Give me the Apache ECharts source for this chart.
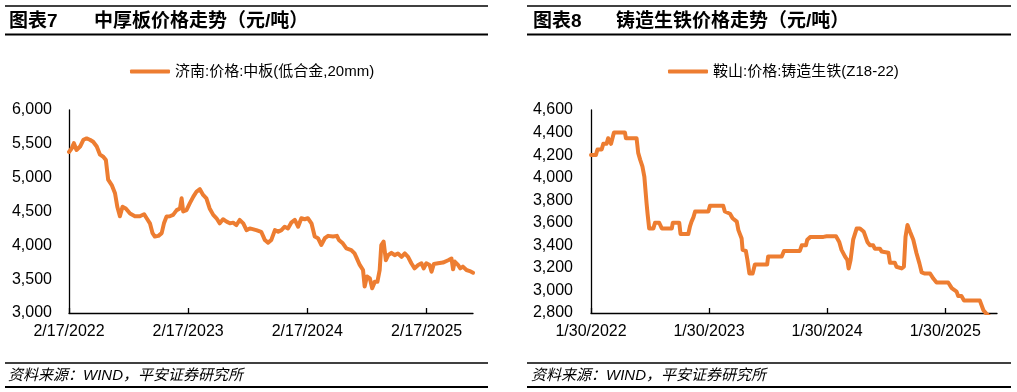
<!DOCTYPE html>
<html><head><meta charset="utf-8">
<script src="https://cdn.jsdelivr.net/npm/echarts@6/dist/echarts.min.js"></script>
<style>html,body{margin:0;padding:0;background:#fff}#c{width:1017px;height:392px}</style>
</head><body><div id="c"></div>
<script>
// ---- Chart 7: 济南 中板 price ----
const plateDates = ['2022-02-17','2022-02-25','2022-03-04','2022-03-12','2022-03-23','2022-04-02','2022-04-12','2022-04-22','2022-05-02','2022-05-13','2022-05-23','2022-06-02','2022-06-10','2022-06-17','2022-06-28','2022-07-08','2022-07-15','2022-07-23','2022-07-31','2022-08-10','2022-08-23','2022-09-07','2022-09-22','2022-10-05','2022-10-13','2022-10-23','2022-10-31','2022-11-07','2022-11-18','2022-11-28','2022-12-05','2022-12-13','2022-12-23','2023-01-02','2023-01-13','2023-01-23','2023-01-28','2023-02-02','2023-02-12','2023-02-22','2023-03-05','2023-03-15','2023-03-25','2023-04-04','2023-04-14','2023-04-24','2023-05-05','2023-05-15','2023-05-25','2023-06-04','2023-06-15','2023-06-25','2023-07-05','2023-07-15','2023-07-25','2023-08-05','2023-08-15','2023-08-25','2023-09-14','2023-09-29','2023-10-10','2023-10-20','2023-10-30','2023-11-10','2023-11-20','2023-11-30','2023-12-10','2023-12-20','2023-12-30','2024-01-10','2024-01-20','2024-01-30','2024-02-09','2024-02-19','2024-03-01','2024-03-11','2024-03-21','2024-03-31','2024-04-11','2024-04-21','2024-05-06','2024-05-18','2024-05-24','2024-06-05','2024-06-16','2024-07-01','2024-07-11','2024-07-16','2024-07-27','2024-08-06','2024-08-11','2024-08-18','2024-08-27','2024-09-03','2024-09-11','2024-09-19','2024-09-26','2024-10-01','2024-10-08','2024-10-15','2024-10-22','2024-11-01','2024-11-11','2024-11-21','2024-12-02','2024-12-12','2024-12-22','2025-01-01','2025-01-11','2025-01-22','2025-02-01','2025-02-08','2025-02-16','2025-02-26','2025-03-04','2025-03-11','2025-03-24','2025-04-08','2025-04-24','2025-05-04','2025-05-09','2025-05-14','2025-05-24','2025-05-31','2025-06-08','2025-06-19','2025-06-29','2025-07-09'];
const plateValues = [5380,5430,5510,5410,5460,5560,5580,5560,5530,5460,5340,5310,5260,4970,4890,4770,4570,4430,4570,4545,4470,4430,4430,4460,4400,4325,4180,4130,4140,4180,4325,4425,4430,4450,4520,4545,4695,4500,4520,4620,4720,4795,4830,4745,4695,4545,4450,4400,4325,4385,4350,4325,4335,4300,4375,4325,4225,4250,4225,4200,4080,4040,4080,4225,4200,4225,4275,4250,4335,4375,4275,4400,4385,4400,4325,4130,4105,4005,4105,4140,4130,4140,4080,4030,3955,3930,3880,3830,3710,3635,3390,3540,3510,3365,3460,3460,3635,4005,4055,3780,3855,3890,3855,3880,3830,3880,3830,3735,3660,3710,3735,3660,3735,3710,3610,3725,3735,3745,3780,3805,3645,3760,3710,3660,3685,3635,3620,3595];
const plateTickDates = ['2022-02-17','2023-02-17','2024-02-17','2025-02-17'];
const plateAxisEnd = '2025-07-09';
const plateYTicks = {min:3000, max:6000, step:500};

// ---- Chart 8: 鞍山 铸造生铁 price ----
const pigDates = ['2022-01-30','2022-02-14','2022-02-19','2022-03-04','2022-03-09','2022-03-19','2022-03-24','2022-03-30','2022-04-02','2022-04-07','2022-04-11','2022-05-15','2022-05-18','2022-06-20','2022-06-25','2022-07-01','2022-07-08','2022-07-14','2022-07-21','2022-07-24','2022-07-29','2022-08-11','2022-08-16','2022-08-29','2022-09-06','2022-10-07','2022-10-10','2022-10-30','2022-11-03','2022-11-27','2022-12-02','2022-12-07','2022-12-13','2022-12-18','2023-01-28','2023-02-02','2023-03-15','2023-03-20','2023-04-05','2023-04-13','2023-04-26','2023-05-01','2023-05-11','2023-05-14','2023-05-24','2023-05-29','2023-06-04','2023-06-14','2023-06-21','2023-07-29','2023-08-01','2023-09-12','2023-09-19','2023-11-07','2023-11-13','2023-11-26','2023-11-30','2023-12-10','2024-01-19','2024-01-24','2024-01-29','2024-02-27','2024-03-08','2024-03-15','2024-03-26','2024-04-02','2024-04-06','2024-04-12','2024-04-20','2024-05-01','2024-05-11','2024-05-23','2024-06-03','2024-06-11','2024-06-21','2024-06-26','2024-07-12','2024-07-17','2024-08-07','2024-08-12','2024-08-27','2024-09-01','2024-09-17','2024-09-24','2024-09-29','2024-10-05','2024-10-13','2024-10-23','2024-11-02','2024-11-11','2024-11-18','2024-11-28','2024-12-14','2024-12-24','2025-01-03','2025-02-08','2025-02-19','2025-03-06','2025-03-11','2025-03-21','2025-03-29','2025-05-17','2025-05-28','2025-06-07','2025-06-20'];
const pigValues = [4200,4200,4250,4250,4300,4300,4350,4350,4300,4300,4400,4400,4350,4350,4220,4160,4100,4010,3770,3680,3550,3550,3600,3600,3550,3550,3600,3600,3500,3500,3565,3610,3650,3700,3700,3750,3750,3700,3680,3640,3610,3535,3460,3360,3350,3270,3150,3150,3230,3230,3300,3300,3350,3350,3400,3400,3450,3475,3475,3460,3480,3480,3430,3360,3300,3270,3195,3270,3450,3550,3550,3520,3430,3400,3400,3370,3370,3345,3335,3245,3245,3210,3195,3210,3475,3580,3520,3450,3330,3240,3160,3150,3150,3105,3070,3070,3020,2990,2950,2950,2910,2910,2825,2790,2760];
const pigTickDates = ['2022-01-30','2023-01-30','2024-01-30','2025-01-30'];
const pigAxisEnd = '2025-07-09';
const pigYTicks = {min:2800, max:4600, step:200};

const ORANGE = '#ED7D31';
const LATIN = '"Liberation Sans", Arial, "Noto Sans CJK SC", sans-serif';

function ts(s){const p=s.split('-');return Date.UTC(+p[0],+p[1]-1,+p[2]);}
function fmtDate(v){const d=new Date(v);return (d.getUTCMonth()+1)+'/'+d.getUTCDate()+'/'+d.getUTCFullYear();}
function fmtNum(v){return v.toLocaleString('en-US');}

function xAxisFor(idx, ticks, start, end){
  const tv = ticks.map(ts);
  return {
    type:'value', gridIndex:idx, min:ts(start), max:ts(end),
    axisLine:{show:true, onZero:false, lineStyle:{color:'#000', width:1.3}},
    axisTick:{show:true, inside:true, length:5, customValues:tv, lineStyle:{color:'#000', width:1.3}},
    axisLabel:{customValues:tv, formatter:fmtDate, color:'#000', fontSize:16, margin:11, fontFamily:LATIN},
    splitLine:{show:false}
  };
}
function yAxisFor(idx, t, margin){
  return {
    type:'value', gridIndex:idx, min:t.min, max:t.max, interval:t.step,
    axisLine:{show:true, lineStyle:{color:'#000', width:1.3}},
    axisTick:{show:false},
    axisLabel:{formatter:fmtNum, color:'#000', fontSize:16, margin:margin, fontFamily:LATIN},
    splitLine:{show:false}
  };
}

const chart = echarts.init(document.getElementById('c'), null, {renderer:'canvas'});

const TITLE_FONT = 'bold 19px "Liberation Sans", "Noto Sans CJK SC", sans-serif';
const FOOT_FONT = 'italic 15px "Liberation Sans", "Noto Sans CJK SC", sans-serif';
function rule(x1,x2,y,w){return {type:'line', silent:true, shape:{x1:x1,y1:y,x2:x2,y2:y}, style:{stroke:'#000', lineWidth:w}};}
function txt(x,y,t,font){return {type:'text', silent:true, x:x, y:y, style:{text:t, font:font, fill:'#000', verticalAlign:'middle', align:'left'}};}

chart.setOption({
  animation:false,
  backgroundColor:'#fff',
  grid:[
    {left:69, right:1017-473, top:110, bottom:392-313, containLabel:false},
    {left:591, right:1017-997, top:110, bottom:392-313, containLabel:false}
  ],
  legend:[
    {data:['济南:价格:中板(低合金,20mm)'], left:125, top:59, itemWidth:40, itemHeight:4, icon:'roundRect',
     textStyle:{fontSize:15, color:'#000', fontFamily:LATIN}},
    {data:['鞍山:价格:铸造生铁(Z18-22)'], left:663, top:59, itemWidth:40, itemHeight:4, icon:'roundRect',
     textStyle:{fontSize:15, color:'#000', fontFamily:LATIN}}
  ],
  xAxis:[ xAxisFor(0, plateTickDates, plateDates[0], plateAxisEnd), xAxisFor(1, pigTickDates, pigDates[0], pigAxisEnd) ],
  yAxis:[ yAxisFor(0, plateYTicks, 17), yAxisFor(1, pigYTicks, 18) ],
  series:[
    {name:'济南:价格:中板(低合金,20mm)', type:'line', xAxisIndex:0, yAxisIndex:0, showSymbol:false, symbol:'none',
     data:plateDates.map((d,i)=>[ts(d), plateValues[i]]), color:ORANGE,
     lineStyle:{color:ORANGE, width:4, cap:'round', join:'round'}, itemStyle:{color:ORANGE}},
    {name:'鞍山:价格:铸造生铁(Z18-22)', type:'line', xAxisIndex:1, yAxisIndex:1, showSymbol:false, symbol:'none',
     data:pigDates.map((d,i)=>[ts(d), pigValues[i]]), color:ORANGE, clip:true,
     lineStyle:{color:ORANGE, width:4, cap:'round', join:'round'}, itemStyle:{color:ORANGE}}
  ],
  graphic:[
    rule(5,488,6,1.3), rule(5,488,34.5,1.8),
    rule(527,1011,6,1.3), rule(527,1011,34.5,1.8),
    txt(9,21.5,'图表7',TITLE_FONT), txt(94,21.5,'中厚板价格走势（元/吨）',TITLE_FONT),
    txt(533,21.5,'图表8',TITLE_FONT), txt(616,21.5,'铸造生铁价格走势（元/吨）',TITLE_FONT),
    rule(5,488,363,1.3), rule(5,488,387,1.8),
    rule(527,1011,363,1.3), rule(527,1011,387,1.8),
    txt(8,375.5,'资料来源：WIND，平安证券研究所',FOOT_FONT),
    txt(531,375.5,'资料来源：WIND，平安证券研究所',FOOT_FONT)
  ]
});
</script>
</body></html>
